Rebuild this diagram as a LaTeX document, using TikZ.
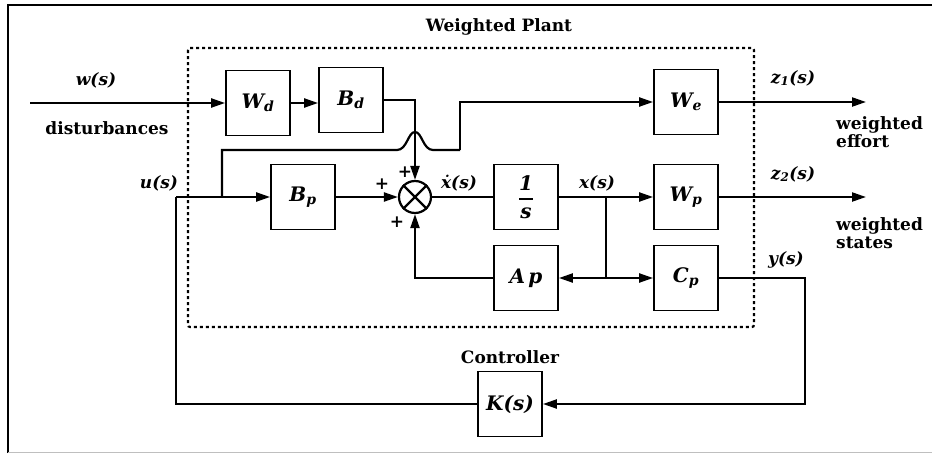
\documentclass[tikz,border=0pt]{standalone}
\usepackage{fontspec}
\setmainfont{DejaVu Serif}
\usetikzlibrary{arrows.meta}
\begin{document}
\begin{tikzpicture}[x=1pt,y=-1pt,
  blk/.style={draw, line width=1.8pt, minimum width=64pt, minimum height=65pt, inner sep=0pt,
              font=\fontsize{20}{23}\selectfont\bfseries\itshape},
  lbl/.style={inner sep=0pt, font=\fontsize{17}{20}\selectfont\bfseries\itshape},
  txt/.style={inner sep=0pt, font=\fontsize{17}{18}\selectfont\bfseries},
  wire/.style={line width=2.2pt},
  arr/.style={wire, -{Triangle[length=14pt,width=9pt]}},
  sumst/.style={draw, circle, line width=2.2pt, minimum size=32pt, inner sep=0pt}]
\useasboundingbox (0,0) rectangle (932,453);
% outer frame
\draw[line width=1.6pt] (8,453) -- (8,5) -- (932,5);
\draw[line width=0.6pt, gray!50] (8,452) -- (932,452);
% weighted plant dotted box
\draw[line width=2.2pt, dash pattern=on 3pt off 3pt, rounded corners=2pt] (188,48) rectangle (754,327);
\node[txt] (title) at (499,27) {Weighted Plant};
% blocks
\node[blk] (wd) at (258,103) {W\textsubscript{d}};
\node[blk] (bd) at (351,100) {B\textsubscript{d}};
\node[blk] (we) at (686,102) {W\textsubscript{e}};
\node[blk] (bp) at (303,197) {B\textsubscript{p}};
\node[sumst] (sum) at (415,197) {};
\draw[wire] (sum.45) -- (sum.225) (sum.135) -- (sum.315);
\node[blk] (int) at (526,197) {$\displaystyle{\hbox{1}\above1.5pt\hbox{s}}$};
\node[blk] (wp) at (686,197) {W\textsubscript{p}};
\node[blk] (ap) at (526,278) {A\,p};
\node[blk] (cp) at (686,278) {C\textsubscript{p}};
\node[blk] (k) at (510,404) {K(s)};
% coordinates
\coordinate (win) at (30,103);
\coordinate (ul) at (176,197);
\coordinate (br1) at (222,197);
\coordinate (h1) at (397,150);
\coordinate (h2) at (433,150);
\coordinate (hj) at (460,150);
\coordinate (bx) at (606,197);
\coordinate (by) at (606,278);
\coordinate (cy) at (805,404);
\coordinate (z1) at (866,102);
\coordinate (z2) at (866,197);
% connectors
\draw[arr] (win) -- (wd.west);
\draw[arr] (wd.east) -- (wd.east -| bd.west);
\draw[arr] (bd.east) -| (sum.north);
\draw[arr] (ul) -- (bp.west);
\draw[wire] (br1) |- (h1) .. controls (407,150) and (408,132) .. (415,132)
   .. controls (422,132) and (423,150) .. (h2) -- (hj);
\draw[arr] (hj) |- (we.west);
\draw[arr] (bp.east) -- (sum.west);
\draw[wire] (sum.east) -- (int.west);
\draw[arr] (int.east) -- (wp.west);
\draw[wire] (bx) -- (by);
\draw[arr] (by) -- (ap.east);
\draw[arr] (by) -- (cp.west);
\draw[arr] (ap.west) -| (sum.south);
\draw[arr] (cp.east) -| (cy) -- (k.east);
\draw[wire] (k.west) -| (ul);
\draw[arr] (we.east) -- (z1);
\draw[arr] (wp.east) -- (z2);
% labels
\node[lbl] (lw) at (96,80) {w(s)};
\node[txt] (ldist) at (107,128) {disturbances};
\node[lbl] (lu) at (159,183) {u(s)};
\node[txt] (p1) at (382,184) {+};
\node[txt] (p2) at (405,172) {+};
\node[txt] (p3) at (397,222) {+};
\node[lbl] (lxd) at (459,183) {ẋ(s)};
\node[lbl] (lx) at (597,183) {x(s)};
\node[lbl] (lz1) at (793,78) {z\textsubscript{1}(s)};
\node[lbl] (lz2) at (793,174) {z\textsubscript{2}(s)};
\node[txt, anchor=west, align=left] (lef) at (836,132) {weighted\\effort};
\node[txt, anchor=west, align=left] (lst) at (836,233) {weighted\\states};
\node[lbl] (ly) at (786,260) {y(s)};
\node[txt] (lctrl) at (510,357) {Controller};
\end{tikzpicture}
\end{document}
